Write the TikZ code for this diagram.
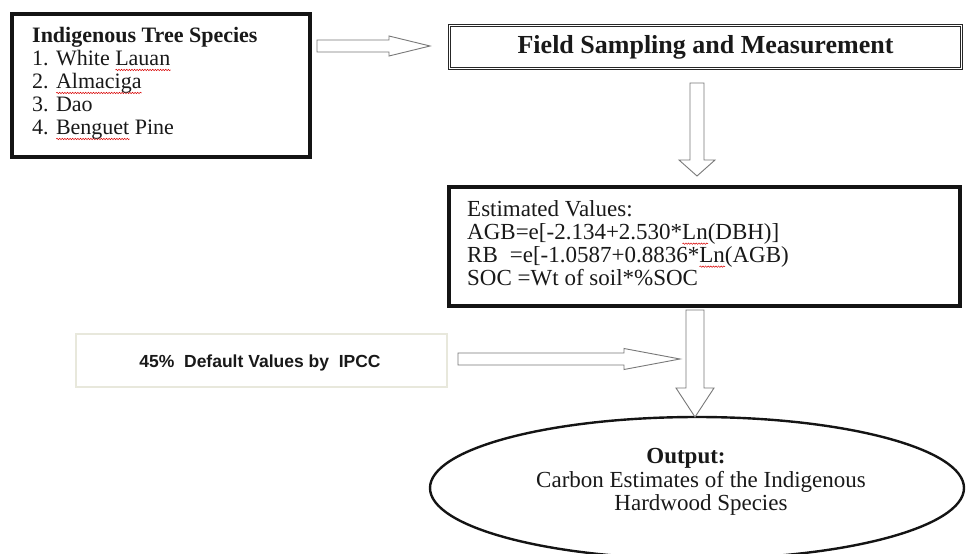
\documentclass[tikz,border=0pt]{standalone}
\usepackage{fontspec}
\setmainfont{Liberation Serif}
\newfontfamily\arialfont{Liberation Sans}
\usetikzlibrary{shapes.geometric,calc,decorations.pathmorphing}
\definecolor{paleb}{RGB}{232,232,220}
\definecolor{arrowc}{RGB}{120,120,120}
\newsavebox\sqbox
\newcommand\redsq[1]{\sbox\sqbox{#1}\rlap{\tikz[baseline=0pt]\draw[red!85!black,line width=0.5pt,decorate,decoration={snake,amplitude=0.7pt,segment length=2.6pt}] (0pt,-4.5pt) -- (\wd\sqbox,-4.5pt);}\usebox\sqbox}
% block arrows: from, to, shaft half, head half, head length
\newcommand\blkR[5]{%
 \draw[hollow] let \p1=(#1), \p2=(#2) in (\x1,\y1+#3) -- (\x2-#5,\y1+#3) -- (\x2-#5,\y1+#4) -- (\x2,\y2) -- (\x2-#5,\y1-#4) -- (\x2-#5,\y1-#3) -- (\x1,\y1-#3) -- cycle;}
\newcommand\blkD[5]{%
 \draw[hollow] let \p1=(#1), \p2=(#2) in (\x1-#3,\y1) -- (\x1-#3,\y2+#5) -- (\x1-#4,\y2+#5) -- (\x2,\y2) -- (\x1+#4,\y2+#5) -- (\x1+#3,\y2+#5) -- (\x1+#3,\y1) -- cycle;}
\begin{document}
\begin{tikzpicture}[x=1pt,y=-1pt,
  thickbox/.style={draw=black!92, line width=3.6pt, inner sep=0pt, fill=white},
  dblbox/.style={draw=black!85, line width=0.9pt, double=white, double distance=1.4pt, inner sep=0pt},
  palebox/.style={draw=paleb, line width=1.8pt, inner sep=0pt},
  hollow/.style={draw=arrowc, fill=white, line width=0.9pt, line join=miter},
  txt/.style={inner sep=0pt, font=\fontsize{22}{23}\selectfont, align=left, text=black!90},
  ctxt/.style={inner sep=0pt, font=\fontsize{23}{23.5}\selectfont, align=center, text=black!90},
]
\useasboundingbox (0,0) rectangle (969,554);
\clip (0,0) rectangle (969,554);

% boxes
\node[thickbox, minimum width=298pt, minimum height=143pt] (sp) at (161,85.5) {};
\node[txt, anchor=north west] (spt) at (32,27)
  {\textbf{Indigenous Tree Species}\\1. White \redsq{Lauan}\\2. \redsq{Almaciga}\\3. Dao\\4. \redsq{Benguet} Pine};

\node[dblbox, minimum width=512pt, minimum height=43pt] (fs) at (705.5,47) {};
\node[inner sep=0pt, font=\fontsize{26}{28}\selectfont\bfseries, text=black!90] (fst) at (705.5,47) {Field Sampling and Measurement};

\node[thickbox, minimum width=511pt, minimum height=119pt] (ev) at (704.5,246.5) {};
\node[txt, font=\fontsize{23}{23}\selectfont, anchor=north west] (evt) at (467,200)
  {Estimated Values:\\AGB=e[-2.134+2.530*\redsq{Ln}(DBH)]\\RB\hspace{12pt}=e[-1.0587+0.8836*\redsq{Ln}(AGB)\\SOC =Wt of soil*\%SOC};

\node[palebox, minimum width=371pt, minimum height=53pt] (ip) at (261.5,360.5) {};
\node[inner sep=0pt, font=\fontsize{17.5}{20}\arialfont\bfseries, text=black!90] (ipt) at (260,363) {45\%\ \ Default Values by\ \ IPCC};

\node[draw=black!92, ellipse, line width=2.4pt, minimum width=534pt, minimum height=142pt, inner sep=0pt] (out) at (697,488) {};
\node[ctxt] (outt) at (701,482) {\textbf{Output:}\hspace*{30pt}\\Carbon Estimates of the Indigenous\\Hardwood Species};

% arrow end points
\coordinate (a1s) at (317,46);  \coordinate (a1e) at (430,46);
\coordinate (a2s) at (697,83);  \coordinate (a2e) at (697,176);
\coordinate (a3s) at (695,310); \coordinate (a3e) at (695,417);
\coordinate (a4s) at (458,359); \coordinate (a4e) at (680,359);

\blkR{a1s}{a1e}{6pt}{10pt}{41pt}
\blkD{a2s}{a2e}{7pt}{18pt}{16pt}
\blkD{a3s}{a3e}{9pt}{19pt}{29pt}
\blkR{a4s}{a4e}{6pt}{10.5pt}{56pt}
\end{tikzpicture}
\end{document}
